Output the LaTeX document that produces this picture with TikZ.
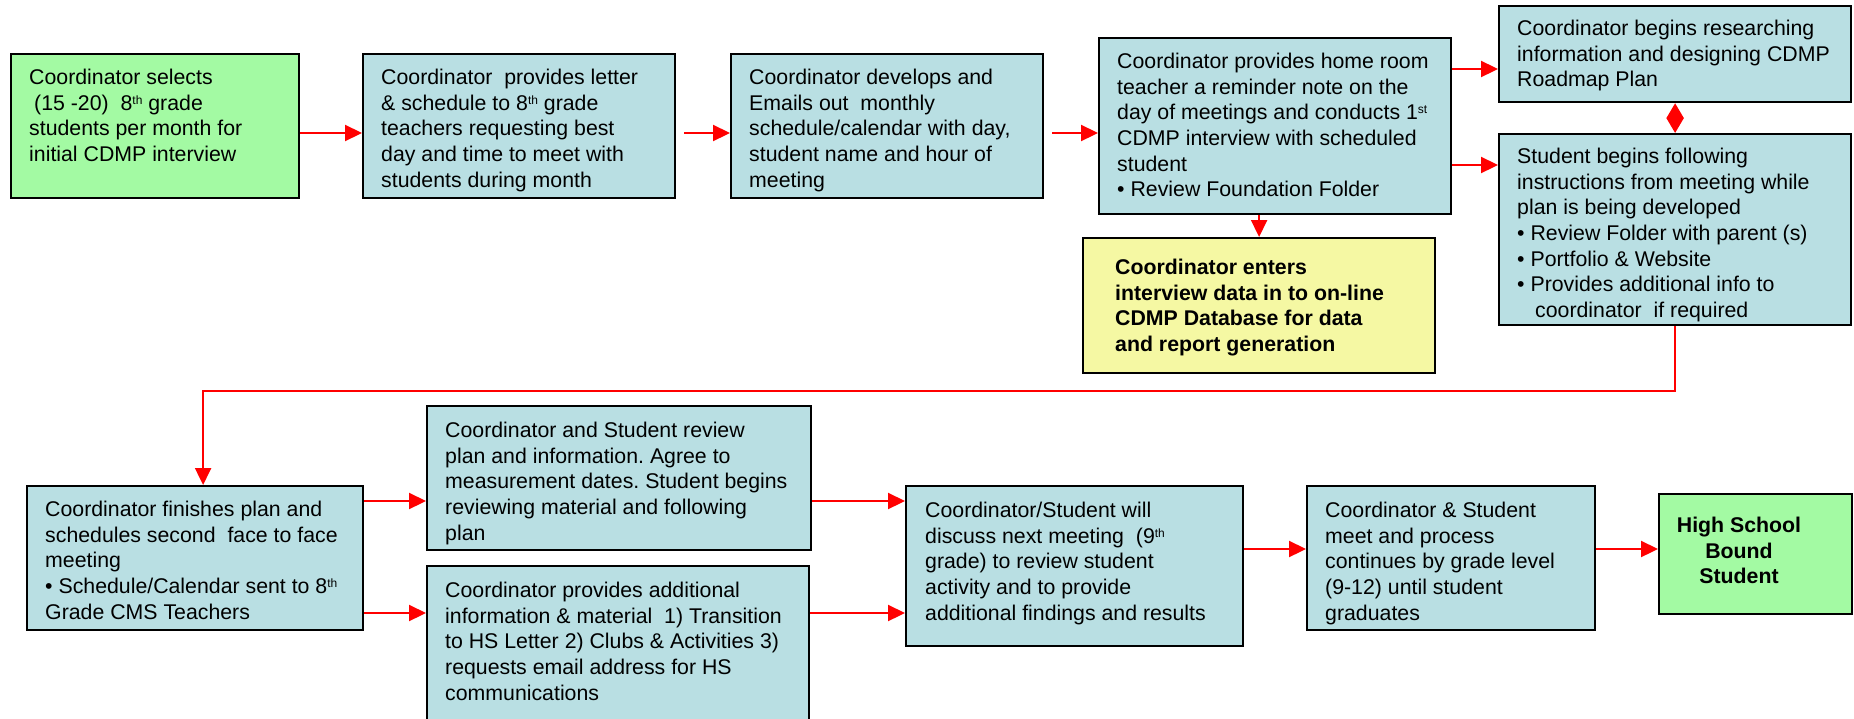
\documentclass[tikz,border=0pt]{standalone}
\usepackage{fontspec}
\setmainfont{Liberation Sans}
\usetikzlibrary{arrows.meta,calc}
\definecolor{boxblue}{HTML}{B9DFE3}
\definecolor{boxgreen}{HTML}{A3FAA3}
\definecolor{boxyellow}{HTML}{F5F8A3}
\newcommand\supx[1]{\raisebox{6pt}{\fontsize{12}{12}\selectfont #1}}
\frenchspacing
\begin{document}
\begin{tikzpicture}[x=1pt,y=-1pt,
  box/.style={draw=black, line width=2.2pt, fill=boxblue, anchor=north west, inner sep=0pt},
  txt/.style={anchor=north west, inner sep=0pt, align=left, font=\fontsize{21.3}{25.6}\selectfont},
  btxt/.style={txt, font=\fontsize{21.3}{25.6}\selectfont\bfseries},
  arr/.style={draw=red, line width=2.2pt, -{Triangle[length=17pt,width=16pt]}},
  darr/.style={draw=red, line width=2.2pt, {Triangle[length=15pt,width=17pt]}-{Triangle[length=15pt,width=17pt]}}]
\useasboundingbox (0,0) rectangle (1854,718);
\clip (0,0) rectangle (1854,718);
% boxes
\node[box, fill=boxgreen, minimum width=288pt, minimum height=144pt] (b1) at (10,53) {};
\node[box, minimum width=312pt, minimum height=144pt] (b2) at (362,53) {};
\node[box, minimum width=312pt, minimum height=144pt] (b3) at (730,53) {};
\node[box, minimum width=352pt, minimum height=176pt] (b4) at (1098,37) {};
\node[box, fill=boxyellow, minimum width=352pt, minimum height=135pt] (b5) at (1082,237) {};
\node[box, minimum width=352pt, minimum height=96pt] (b6) at (1498,5) {};
\node[box, minimum width=352pt, minimum height=191pt] (b7) at (1498,133) {};
\node[box, minimum width=336pt, minimum height=144pt] (b8) at (26,485) {};
\node[box, minimum width=384pt, minimum height=144pt] (b9) at (426,405) {};
\node[box, minimum width=382pt, minimum height=170pt] (b10) at (426,565) {};
\node[box, minimum width=337pt, minimum height=160pt] (b11) at (905,485) {};
\node[box, minimum width=288pt, minimum height=144pt] (b12) at (1306,485) {};
\node[box, fill=boxgreen, minimum width=193pt, minimum height=120pt] (b13) at (1658,493) {};
% texts
\node[txt] (t1) at ($(b1.north west)+(19,16)$) {Coordinator selects\\\hspace{5pt}(15 -20)\ \ 8\supx{th} grade\\students per month for\\initial CDMP interview};
\node[txt] (t2) at ($(b2.north west)+(19,16)$) {Coordinator\ \ provides letter\\\& schedule to 8\supx{th} grade\\teachers requesting best\\day and time to meet with\\students during month};
\node[txt] (t3) at ($(b3.north west)+(19,16)$) {Coordinator develops and\\Emails out\ \ monthly\\schedule/calendar with day,\\student name and hour of\\meeting};
\node[txt] (t4) at ($(b4.north west)+(19,16)$) {Coordinator provides home room\\teacher a reminder note on the\\day of meetings and conducts 1\supx{st}\\CDMP interview with scheduled\\student\\• Review Foundation Folder};
\node[btxt] (t5) at ($(b5.north west)+(33,22)$) {Coordinator enters\\interview data in to on-line\\CDMP Database for data\\and report generation};
\node[txt] (t6) at ($(b6.north west)+(19,15)$) {Coordinator begins researching\\information and designing CDMP\\Roadmap Plan};
\node[txt] (t7) at ($(b7.north west)+(19,15)$) {Student begins following\\instructions from meeting while\\plan is being developed\\• Review Folder with parent (s)\\• Portfolio \& Website\\• Provides additional info to\\\hspace{18pt}coordinator\ \ if required};
\node[txt] (t8) at ($(b8.north west)+(19,16)$) {Coordinator finishes plan and\\schedules second\ \ face to face\\meeting\\• Schedule/Calendar sent to 8\supx{th}\\Grade CMS Teachers};
\node[txt] (t9) at ($(b9.north west)+(19,17)$) {Coordinator and Student review\\plan and information. Agree to\\measurement dates. Student begins\\reviewing material and following\\plan};
\node[txt] (t10) at ($(b10.north west)+(19,17)$) {Coordinator provides additional\\information \& material\ \ 1) Transition\\to HS Letter 2) Clubs \& Activities 3)\\requests email address for HS\\communications};
\node[txt] (t11) at ($(b11.north west)+(20,17)$) {Coordinator/Student will\\discuss next meeting\ \ (9\supx{th}\\grade) to review student\\activity and to provide\\additional findings and results};
\node[txt] (t12) at ($(b12.north west)+(19,17)$) {Coordinator \& Student\\meet and process\\continues by grade level\\(9-12) until student\\graduates};
\node[btxt, anchor=north, align=center] (t13) at ($(b13.north west)+(81,24)$) {High School\\Bound\\Student};
% connectors
\draw[arr] ([yshift=-80pt]b1.north east) -- ([yshift=-80pt]b2.north west);
\draw[arr, shorten <=8pt] ([yshift=-80pt]b2.north east) -- ([yshift=-80pt]b3.north west);
\draw[arr, shorten <=8pt] ([yshift=-80pt]b3.north east) -- ([yshift=-96pt]b4.north west);
\draw[arr] ([yshift=-32pt]b4.north east) -- ([yshift=-64pt]b6.north west);
\draw[arr] ([yshift=-128pt]b4.north east) -- ([yshift=-32pt]b7.north west);
\draw[arr] (b5.north |- b4.south) -- (b5.north);
\draw[darr] (b6.south) -- (b7.north);
\draw[arr] (b7.south) -- ++(0,65) -| ([xshift=8pt]b8.north);
\draw[arr] ([yshift=-16pt]b8.north east) -- ([yshift=-96pt]b9.north west);
\draw[arr] ([yshift=-128pt]b8.north east) -- ([yshift=-48pt]b10.north west);
\draw[arr] ([yshift=-96pt]b9.north east) -- ([yshift=-16pt]b11.north west);
\draw[arr] ([yshift=-48pt]b10.north east) -- ([yshift=-128pt]b11.north west);
\draw[arr] ([yshift=-64pt]b11.north east) -- ([yshift=-64pt]b12.north west);
\draw[arr] ([yshift=-64pt]b12.north east) -- ([yshift=-56pt]b13.north west);
\end{tikzpicture}
\end{document}
